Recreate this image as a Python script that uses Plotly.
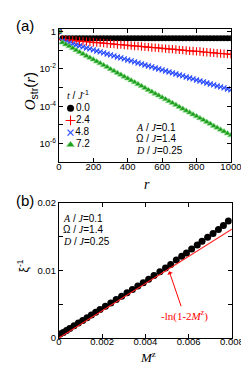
import plotly.graph_objects as go

# ---------------- data: panel (a) ----------------
r_vals = [0, 20, 40, 60, 80, 100, 120, 140, 160, 180, 200, 220, 240, 260, 280, 300,
          320, 340, 360, 380, 400, 420, 440, 460, 480, 500, 520, 540, 560, 580, 600,
          620, 640, 660, 680, 700, 720, 740, 760, 780, 800, 820, 840, 860, 880, 900,
          920, 940, 960, 980, 1000]
t_labels = ["0.0", "2.4", "4.8", "7.2"]

# log10 of O_str(r)
log_t00 = [0.0] + [-0.37] * 50
log_t24 = [0.0, -0.44, -0.45, -0.47, -0.48, -0.50, -0.52, -0.53, -0.55, -0.57, -0.58,
           -0.60, -0.61, -0.63, -0.65, -0.66, -0.68, -0.70, -0.71, -0.73, -0.74,
           -0.76, -0.78, -0.79, -0.81, -0.83, -0.84, -0.86, -0.87, -0.89, -0.91,
           -0.92, -0.94, -0.95, -0.97, -0.99, -1.00, -1.02, -1.04, -1.05, -1.07,
           -1.08, -1.10, -1.12, -1.13, -1.15, -1.17, -1.18, -1.20, -1.21, -1.23]
log_t48 = [0.0, -0.51, -0.57, -0.62, -0.67, -0.73, -0.78, -0.83, -0.89, -0.94, -0.99,
           -1.05, -1.10, -1.15, -1.21, -1.26, -1.31, -1.37, -1.42, -1.47, -1.53,
           -1.58, -1.63, -1.69, -1.74, -1.80, -1.85, -1.90, -1.96, -2.01, -2.06,
           -2.12, -2.17, -2.22, -2.28, -2.33, -2.38, -2.44, -2.49, -2.54, -2.60,
           -2.65, -2.70, -2.76, -2.81, -2.86, -2.92, -2.97, -3.02, -3.08, -3.13]
log_t72 = [0.0, -0.60, -0.70, -0.80, -0.90, -1.01, -1.11, -1.21, -1.31, -1.41, -1.51,
           -1.61, -1.71, -1.81, -1.91, -2.02, -2.12, -2.22, -2.32, -2.42, -2.52,
           -2.62, -2.72, -2.82, -2.92, -3.03, -3.13, -3.23, -3.33, -3.43, -3.53,
           -3.63, -3.73, -3.83, -3.93, -4.04, -4.14, -4.24, -4.34, -4.44, -4.54,
           -4.64, -4.74, -4.84, -4.94, -5.05, -5.15, -5.25, -5.35, -5.45, -5.55]

# ---------------- data: panel (b) ----------------
Mz_vals = [0.00005, 0.0002, 0.00035, 0.0005, 0.0007, 0.0009, 0.0011, 0.0013, 0.0015,
           0.0017, 0.0019, 0.00215, 0.0024, 0.00265, 0.0029, 0.00315, 0.0034, 0.00365,
           0.0039, 0.00415, 0.0044, 0.00467, 0.00493, 0.00517, 0.00543, 0.00568,
           0.0059, 0.00614, 0.0064, 0.00662, 0.00688, 0.00713, 0.00738, 0.00761, 0.00784]
xi_inv = [0.0006, 0.0008, 0.0011, 0.0014, 0.0018, 0.0022, 0.0026, 0.0030, 0.0034,
          0.0038, 0.0042, 0.0047, 0.0052, 0.0057, 0.0062, 0.0067, 0.0072, 0.0077,
          0.0082, 0.0087, 0.00928, 0.00981, 0.01039, 0.01091, 0.01155, 0.01213,
          0.01261, 0.01319, 0.01377, 0.01435, 0.01493, 0.01551, 0.01609, 0.01667, 0.01735]
theory_M = [0.0, 0.002, 0.004, 0.006, 0.008]
theory_xi = [0.0, 0.00402, 0.00806, 0.01212, 0.01613]

# ---------------- styling ----------------
SANS = "Liberation Sans, Arial, sans-serif"
SERIF = "Liberation Serif, Times New Roman, serif"

fig = go.Figure()

styles = [
    dict(symbol="circle", size=6, color="black", line=dict(width=0)),
    dict(symbol="cross-thin", size=6, color="red", line=dict(color="red", width=1.1)),
    dict(symbol="x-thin", size=5, color="#2a4cff", line=dict(color="#2a4cff", width=1.2)),
    dict(symbol="triangle-up", size=6, color="#1f9e1f", line=dict(color="#8fe08f", width=0.6)),
]
for lab, logs, st in zip(t_labels, [log_t00, log_t24, log_t48, log_t72], styles):
    fig.add_trace(go.Scatter(
        x=r_vals, y=[10 ** v for v in logs], mode="markers", name=lab,
        marker=st, xaxis="x", yaxis="y", showlegend=False))

# compact legend: one row per t label on a hidden categorical axis
for lab, st in zip(t_labels, styles):
    fig.add_trace(go.Scatter(
        x=[0], y=[lab], mode="markers+text", text=[lab], textposition="middle right",
        textfont=dict(family=SANS, size=10, color="black"),
        marker=dict(st, size=st["size"] + 1), xaxis="x3", yaxis="y3",
        showlegend=False, cliponaxis=False, hoverinfo="skip"))

fig.add_trace(go.Scatter(
    x=Mz_vals, y=xi_inv, mode="markers", marker=dict(symbol="circle", size=7, color="black"),
    xaxis="x2", yaxis="y2", showlegend=False))
fig.add_trace(go.Scatter(
    x=theory_M, y=theory_xi, mode="lines", line=dict(color="#ff2020", width=1.2),
    xaxis="x2", yaxis="y2", showlegend=False))

W, H = 249, 365
def px(x):
    return x / W
def py(y):
    return 1 - y / H

axis_common = dict(showline=True, linecolor="black", linewidth=1.2, mirror="ticks",
                   ticks="inside", ticklen=4, tickcolor="black", tickwidth=1,
                   showgrid=False, zeroline=False,
                   tickfont=dict(family=SANS, size=9.5, color="black"))
x_common = dict(axis_common, ticklabelstandoff=-5)
y_common = dict(axis_common, ticklabelstandoff=0)

log_tickvals = [10 ** k for k in range(0, -8, -1)]
log_ticktext = ["1", "", "10<sup>-2</sup>", "", "10<sup>-4</sup>", "", "10<sup>-6</sup>", ""]

hidden = dict(visible=False, showgrid=False, zeroline=False, fixedrange=True)

fig.update_layout(
    width=W, height=H, margin=dict(l=0, r=0, t=0, b=0),
    paper_bgcolor="white", plot_bgcolor="rgba(0,0,0,0)", showlegend=False,
    xaxis=dict(domain=[px(51), px(234)], anchor="y", range=[0, 1000],
               tickvals=[0, 200, 400, 600, 800, 1000], **x_common),
    yaxis=dict(domain=[py(153), py(15)], anchor="x", type="log", range=[-7.0, 0.15],
               tickvals=log_tickvals, ticktext=log_ticktext, **y_common),
    xaxis2=dict(domain=[px(51), px(235)], anchor="y2", range=[0, 0.008],
                tickvals=[0, 0.002, 0.004, 0.006, 0.008],
                ticktext=["0", "0.002", "0.004", "0.006", "0.008"], **x_common),
    yaxis2=dict(domain=[py(334), py(195)], anchor="x2", range=[0, 0.02],
                tickvals=[0, 0.005, 0.01, 0.015, 0.02],
                ticktext=["0", "", "0.01", "", "0.02"], **y_common),
    xaxis3=dict(domain=[px(61), px(110)], anchor="y3", range=[-0.05, 1], **hidden),
    yaxis3=dict(domain=[py(141), py(91)], anchor="x3", type="category",
                categoryorder="array", categoryarray=t_labels,
                range=[3.5, -0.5], **hidden),
)

ann = []
def txt(x, y, text, size=10, xanchor="left", family=SANS, color="black", angle=0):
    ann.append(dict(x=px(x), y=py(y), xref="paper", yref="paper", text=text,
                    showarrow=False, xanchor=xanchor, yanchor="middle", textangle=angle,
                    font=dict(family=family, size=size, color=color)))

def it(s):
    return '<span style="font-family:Liberation Serif"><i>' + s + '</i></span>'

txt(3, 12, "(a)", size=15)
txt(3, 192, "(b)", size=15)

# legend title
txt(57, 84, it("t") + " / " + it("J") + "<sup>-1</sup>", size=10)

# parameter labels
for (x0, y0) in [(131, 0), (53, 94)]:
    txt(x0, 117 + y0, it("A") + " / " + it("J") + "=0.1")
    txt(x0, 128.5 + y0, "Ω / " + it("J") + "=1.4")
    txt(x0, 141 + y0, it("D") + " / " + it("J") + "=0.25")

# axis titles
txt(21, 80, '<span style="font-family:Liberation Serif"><i>O</i></span><sub>str</sub>(' + it("r") + ")",
    size=15, xanchor="center", angle=-90)
txt(145, 176, it("r"), size=14, xanchor="center", family=SERIF)
txt(13, 260, "ξ<sup>-1</sup>", size=12, xanchor="center", angle=-90)
txt(146, 354, it("M") + "<sup>z</sup>", size=13, xanchor="center", family=SERIF)

fig.update_layout(annotations=ann)

fig.add_annotation(x=0.0051, y=0.0099, xref="x2", yref="y2",
                   text="-ln(1-2<i>M</i><sup>z</sup>)", showarrow=True,
                   arrowhead=1, arrowsize=1, arrowwidth=1, arrowcolor="red",
                   ax=15, ay=44, font=dict(family=SERIF, size=11, color="red"))

fig.write_html("out.html")
